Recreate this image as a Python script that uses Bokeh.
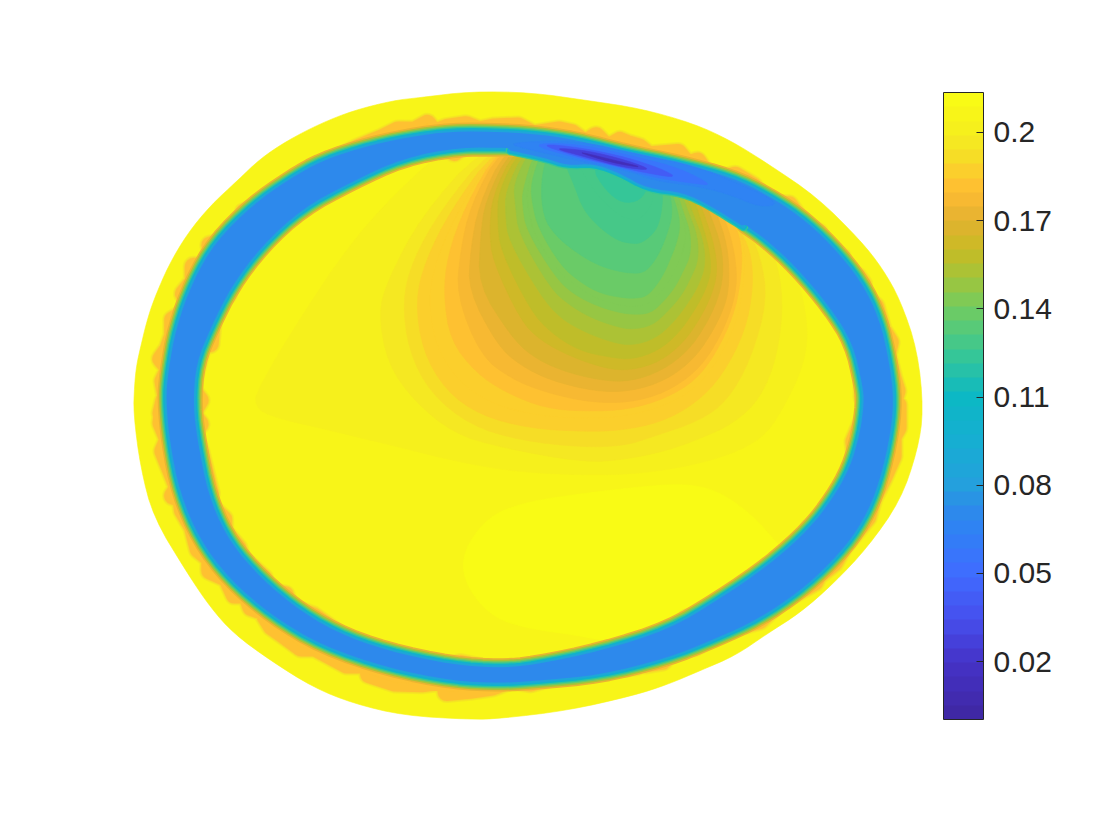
from bokeh.plotting import figure
from bokeh.models import Range1d, LinearColorMapper, ColorBar, FixedTicker, ColumnDataSource
from bokeh.transform import transform
from bokeh.embed import file_html
from bokeh.resources import INLINE
import numpy as np

# ---- colour scale
VMIN, VMAX = 0.0003, 0.2136
N_LEVELS = 44
STOP_VALUES = [0.0003, 0.02, 0.035, 0.05, 0.065, 0.072, 0.08, 0.095, 0.11, 0.125, 0.14, 0.15, 0.16, 0.17, 0.18, 0.187, 0.1918, 0.1967, 0.2015, 0.2063, 0.2112, 0.2136]
STOP_COLORS = ["#3e26a0", "#4533c8", "#4650ee", "#3f6cff", "#2f82f4", "#2d8bea", "#24a0dd", "#16aed2", "#0cb8c4", "#38c795", "#70cc62", "#a0c53c", "#c8bb24", "#e3b230", "#ffbb33", "#fbcf2c", "#f6dd26", "#f5e822", "#f6f01c", "#f8f518", "#f9fb15", "#f9fb15"]
TICK_VALUES = [0.02, 0.05, 0.08, 0.11, 0.14, 0.17, 0.2]
TICK_LABELS = ["0.02", "0.05", "0.08", "0.11", "0.14", "0.17", "0.2"]

# ---- boundary of the domain
OUTER_X = [133,134,136,140,146,153,168,187,210,237,260,287,320,353,393,420,470,530,587,640,693,730,767,817,860,882,900,917,923,917,900,867,833,800,767,735,700,667,633,567,500,470,403,353,313,270,233,210,187,153,140]
OUTER_Y = [413,385,365,347,322,300,265,233,205,180,158,140,123,110,100,97,91,92,100,108,123,140,163,197,240,268,300,350,410,450,500,547,583,612,633,655,670,684,695,710,718,719,715,703,687,660,633,607,573,517,467]

# ---- jagged limit of the ring's outer edge
JOUT_X = [150,155,152,158,150,157,162,162,173,178,173,183,183,195,208,200,220,235,235,250,270,290,310,333,353,377,393,410,423,430,443,463,477,493,517,533,560,573,587,598,610,623,630,643,653,683,693,703,710,730,742,760,767,783,797,813,827,828,850,848,867,872,870,885,892,900,897,903,907,903,908,908,903,903,893,883,877,853,843,827,823,787,767,733,700,680,667,650,643,640,600,577,560,530,510,490,467,443,442,417,390,363,362,340,307,293,277,263,253,242,237,225,217,200,200,188,182,172,170,162,167,162,152,157,150,153]
JOUT_Y = [413,397,380,367,357,347,333,317,310,293,290,277,262,263,248,240,235,217,206,200,182,168,160,148,138,128,120,120,113,122,117,114,119,116,115,123,119,122,132,125,137,130,133,137,145,143,155,152,162,170,167,178,187,197,198,220,227,237,252,260,273,280,290,303,327,340,353,377,390,403,405,428,437,457,480,500,520,550,567,580,587,608,627,637,655,655,670,673,663,675,680,682,685,693,690,697,700,702,690,693,692,683,673,673,655,655,643,633,617,613,600,600,583,575,563,553,530,513,500,498,490,477,452,440,423,400]

# ---- jagged limit of the ring's inner edge
JIN_X = [210,202,205,213,220,223,237,240,263,290,307,337,360,373,382,390,420,450,457,467,487,503,533,567,593,620,647,683,700,723,740,760,780,793,810,827,837,847,852,852,857,853,843,845,838,830,823,800,802,780,757,740,717,703,680,673,650,627,607,580,553,527,500,487,463,437,410,387,377,347,320,297,293,275,272,250,247,233,233,220,217,220,210,205,203,210,202]
JIN_Y = [400,390,373,343,345,313,297,277,247,223,207,192,183,170,177,167,162,155,162,153,152,156,160,168,166,176,191,190,206,215,228,240,253,270,283,307,327,353,377,397,403,417,440,457,483,487,510,523,535,550,570,582,593,603,610,622,630,635,640,647,652,657,658,658,653,658,648,643,648,627,608,600,588,585,572,553,543,527,515,503,497,490,450,437,422,423,413]
JIN_TOP_FIRST, JIN_TOP_LAST = 21, 30   # this stretch meets the contours directly

# ---- smoother edges of the blue ring
BOUT_X = [163,165,173,190,213,250,287,320,370,420,460,527,577,627,677,733,767,800,833,863,881,891,896,891,878,860,833,800,760,717,667,600,533,500,453,387,320,270,227,197,177,167]
BOUT_Y = [400,373,327,280,240,203,177,158,142,132,128,130,137,150,160,175,192,213,243,280,317,360,400,443,493,530,563,593,620,640,660,677,683,685,683,670,647,617,580,540,493,443]
BIN_TOP_X = [510,543,567,593,620,647,683,710,743]
BIN_TOP_Y = [150,157,165,163,173,188,192,205,226]
BIN_REST_X = [743,763,793,827,850,860,861,857,847,830,807,767,717,667,600,533,500,453,387,337,293,253,227,210,200,195,198,213,233,263,303,353,403,460,510]
BIN_REST_Y = [226,240,267,307,343,387,403,433,467,497,527,563,597,627,648,662,665,662,648,630,603,567,533,493,443,405,363,327,287,247,210,183,160,149,150]

# ---- values across the ring's edge
EDGE_ROUGH_LEVELS = [0.197, 0.19, 0.18]
EDGE_SMOOTH_LEVELS = [0.17, 0.155, 0.14, 0.125, 0.105, 0.085]
EDGE_TOP_LEVELS = [0.125, 0.105, 0.085]
RING_LEVEL = 0.072
BASE_LEVEL = 0.206

# ---- dark streak in the ring
STREAK_LEVELS = [0.066, 0.055, 0.04, 0.025, 0.01]
STREAK_X = [
    [503,577,643,693,743,780,760,727,693,653,627,577,533],
    [527,577,643,680,713,693,653,620,573],
    [537,580,627,660,677,653,613,573],
    [550,587,627,653,623,587],
    [573,607,647,610],
]
STREAK_Y = [
    [142,140,155,165,185,203,207,193,185,180,170,160,150],
    [143,143,158,168,185,183,177,167,157],
    [143,147,157,168,177,174,165,155],
    [147,150,160,170,167,157],
    [150,158,168,162],
]

# ---- interior contours, outermost first
FIELD_LEVELS = [0.2015,0.1967,0.1918,0.187,0.185,0.181,0.177,0.172,0.167,0.162,0.158,0.153,0.148,0.145,0.143,0.14,0.135,0.13,0.127,0.125]
FIELD_X = [
    [455,420,353,287,257,254,265,330,400,460,520,600,650,700,740,767,787,803,808,800,785,770,740,620,540],
    [480,420,387,378,387,413,453,500,583,625,667,700,733,760,777,783,775,755,730,620,540],
    [490,440,412,402,408,430,470,520,583,625,650,700,727,750,767,760,745,725,620,540],
    [495,450,425,415,422,445,480,530,583,620,660,695,722,745,753,750,737,720,620,540],
    [498,460,435,428,435,457,490,535,585,625,665,695,718,737,743,745,737,725,620,540],
    [498,465,447,443,450,475,505,545,588,628,665,695,716,733,740,742,734,722,620,542],
    [500,470,460,456,480,510,545,590,630,665,695,715,731,737,733,722,712,620,545],
    [505,478,470,468,497,520,550,595,630,665,692,710,725,729,727,716,706,620,545],
    [510,485,480,478,510,530,560,600,630,662,688,705,717,723,721,709,700,620,548],
    [515,492,489,492,520,540,570,605,630,660,684,700,711,717,714,703,694,620,550],
    [520,498,497,500,530,550,578,610,632,658,678,694,705,711,708,698,690,620,552],
    [525,505,505,508,540,560,585,612,632,655,673,688,698,705,703,692,684,620,555],
    [530,513,515,518,550,568,590,615,632,652,668,681,690,698,697,688,680,620,558],
    [535,522,522,526,555,572,595,618,632,650,664,675,683,690,690,683,676,620,560],
    [538,526,528,534,558,578,598,620,634,648,660,669,676,683,686,680,672,620,562],
    [542,530,532,538,560,580,600,620,634,646,656,664,670,676,680,676,668,620,565],
    [548,540,543,555,573,592,610,630,644,653,660,666,672,670,664,620,570],
    [558,573,583,600,617,630,640,651,658,662,662,656,620,575],
    [570,585,600,615,628,640,651,654,620,580],
    [590,605,622,640,648,625],
]
FIELD_Y = [
    [145,168,237,337,390,403,415,430,447,462,472,475,472,463,450,433,400,365,330,285,245,215,190,155,140],
    [148,217,280,313,363,400,433,447,462,459,450,438,423,398,355,300,255,215,190,155,140],
    [148,210,260,300,350,393,425,440,447,445,437,420,400,360,300,255,225,205,155,140],
    [148,210,260,300,350,390,415,428,431,430,422,403,375,330,285,250,225,200,155,140],
    [148,205,260,300,345,380,403,415,418,416,405,388,360,320,285,250,222,198,155,140],
    [148,205,255,295,340,372,392,408,411,409,398,380,352,315,283,248,221,196,155,140],
    [148,205,250,295,355,378,392,402,402,392,372,345,310,280,245,212,190,155,140],
    [148,205,250,290,345,365,380,391,391,380,360,335,305,280,245,212,190,155,140],
    [148,200,235,285,335,355,370,380,381,370,350,325,300,275,245,212,190,155,140],
    [148,195,230,260,320,340,356,368,370,361,341,317,295,272,245,212,190,155,140],
    [148,190,220,250,310,332,350,357,359,350,333,310,290,270,245,212,190,155,140],
    [148,190,215,240,295,318,332,342,345,338,322,302,285,265,240,212,190,155,140],
    [148,183,205,233,288,304,317,326,329,325,310,295,278,260,235,212,190,155,140],
    [148,190,205,230,277,293,305,312,314,313,300,286,270,255,232,212,190,155,140],
    [148,188,210,235,272,287,299,305,306,304,292,280,266,250,230,212,190,155,140],
    [148,183,205,228,265,282,293,297,298,296,285,272,258,243,225,205,185,155,140],
    [148,183,217,235,250,262,269,273,272,262,250,235,215,195,180,155,140],
    [148,183,210,228,240,243,243,235,225,205,185,170,155,140],
    [148,178,198,212,219,219,205,190,155,145],
    [165,190,203,200,185,165],
]

# ---- brightest patch, lower interior
PATCH_LEVEL = 0.212
PATCH_X = [463,463,487,520,593,640,720,800,777,750,717,683,633,567,520,487]
PATCH_Y = [550,580,613,627,637,650,620,570,543,513,490,483,487,495,503,517]

# ---- palette from the sampled stops
palette = []
grid = VMIN + (np.arange(N_LEVELS) + 0.5) * (VMAX - VMIN) / N_LEVELS
rgb = np.array([[int(c[i:i+2], 16) for i in (1, 3, 5)] for c in STOP_COLORS], dtype=float)
for g in grid:
    r = [int(round(np.interp(g, STOP_VALUES, rgb[:, k]))) for k in range(3)]
    palette.append("#%02x%02x%02x" % tuple(r))
mapper = LinearColorMapper(palette=palette, low=VMIN, high=VMAX)
fill = transform("level", mapper)


def round_corners(x, y, closed=True, n=2):
    """Corner-cut an outline so that it draws as a curve, not as facets."""
    pts = np.column_stack([x, y]).astype(float)
    for _ in range(n):
        nxt = np.roll(pts, -1, axis=0) if closed else pts[1:]
        cur = pts if closed else pts[:-1]
        q = 0.75 * cur + 0.25 * nxt
        r = 0.25 * cur + 0.75 * nxt
        out = np.empty((2 * len(cur), 2))
        out[0::2], out[1::2] = q, r
        pts = out if closed else np.vstack([pts[:1], out, pts[-1:]])
    return pts[:, 0].tolist(), pts[:, 1].tolist()


def shifted(x, y, d):
    """Move an edge along the ray from the ring's middle, d pixels outward."""
    cx, cy = 530.0, 405.0
    x, y = np.array(x, float), np.array(y, float)
    rr = np.hypot(x - cx, y - cy)
    return (x + d * (x - cx) / rr).tolist(), (y + d * (y - cy) / rr).tolist()


p = figure(width=1112, height=832, x_range=Range1d(0, 1112), y_range=Range1d(832, 0),
           x_axis_type=None, y_axis_type=None, toolbar_location=None,
           output_backend="svg", min_border=0, outline_line_color=None)
p.grid.visible = False


def polys(xs, ys, levels):
    return ColumnDataSource(dict(xs=xs, ys=ys, level=levels))


def fillpoly(xs, ys, levels, smooth=True):
    if smooth:
        pairs = [round_corners(a, b) for a, b in zip(xs, ys)]
        xs, ys = [q[0] for q in pairs], [q[1] for q in pairs]
    p.patches("xs", "ys", source=polys(xs, ys, levels), fill_color=fill, line_color=fill, line_width=0.6)


def stroke_closed(x, y, level, width):
    p.patches("xs", "ys", source=polys([x], [y], [level]), fill_color=None,
              line_color=fill, line_width=width, line_join="round")


def stroke_open(x, y, level, width):
    p.multi_line("xs", "ys", source=polys([x], [y], [level]), line_color=fill,
                 line_width=width, line_join="round", line_cap="round")


EDGE_GAP = 11
BLUE_INSET = 2.5
ROUGH_WIDTHS = [22, 20, 18]
SMOOTH_WIDTHS = [18, 15, 12, 9.5, 7, 4]

QO_X, QO_Y = shifted(JOUT_X, JOUT_Y, -EDGE_GAP)
QI_X, QI_Y = shifted(JIN_X, JIN_Y, EDGE_GAP)
rest_x = QI_X[JIN_TOP_LAST:] + QI_X[:JIN_TOP_FIRST + 1]
rest_y = QI_Y[JIN_TOP_LAST:] + QI_Y[:JIN_TOP_FIRST + 1]
BO_X, BO_Y = round_corners(*shifted(BOUT_X, BOUT_Y, -BLUE_INSET))
BT_X, BT_Y = round_corners(BIN_TOP_X, BIN_TOP_Y, closed=False)
BR_X, BR_Y = round_corners(*shifted(BIN_REST_X, BIN_REST_Y, BLUE_INSET), closed=False)

# domain
fillpoly([OUTER_X], [OUTER_Y], [BASE_LEVEL])
# outer jagged band of the ring
for lev, w in zip(EDGE_ROUGH_LEVELS, ROUGH_WIDTHS):
    stroke_closed(QO_X, QO_Y, lev, w)
fillpoly([QO_X], [QO_Y], [EDGE_ROUGH_LEVELS[-1]], smooth=False)
# interior
fillpoly([rest_x + BIN_TOP_X[1:-1]], [rest_y + BIN_TOP_Y[1:-1]], [BASE_LEVEL], smooth=False)
fillpoly([PATCH_X], [PATCH_Y], [PATCH_LEVEL])
fillpoly(FIELD_X, FIELD_Y, FIELD_LEVELS)
# inner jagged band of the ring
for lev, w in zip(EDGE_ROUGH_LEVELS, ROUGH_WIDTHS):
    stroke_open(rest_x, rest_y, lev, w)
# narrow bands next to the blue
for lev, w in zip(EDGE_SMOOTH_LEVELS, SMOOTH_WIDTHS):
    stroke_closed(BO_X, BO_Y, lev, w)
    stroke_open(BR_X, BR_Y, lev, w)
for lev, w in zip(EDGE_TOP_LEVELS, SMOOTH_WIDTHS[-3:]):
    stroke_open(BT_X, BT_Y, lev, w)
# ring
ring_src = ColumnDataSource(dict(
    xs=[[[BO_X, BR_X[:-1] + BT_X[:-1]]]],
    ys=[[[BO_Y, BR_Y[:-1] + BT_Y[:-1]]]],
    level=[RING_LEVEL]))
p.multi_polygons("xs", "ys", source=ring_src, fill_color=fill, line_color=None)
fillpoly(STREAK_X, STREAK_Y, STREAK_LEVELS)

# colour bar
bar = ColorBar(color_mapper=mapper, ticker=FixedTicker(ticks=TICK_VALUES),
               major_label_overrides=dict(zip(TICK_VALUES, TICK_LABELS)),
               location=(943, 113), width=40, height=627, padding=0, margin=0,
               bar_line_color="#262626", bar_line_width=1,
               major_tick_line_color="#262626", major_tick_in=7, major_tick_out=0,
               minor_tick_line_color=None, label_standoff=10,
               major_label_text_font="Liberation Sans", major_label_text_font_size="30px",
               major_label_text_color="#262626", background_fill_color=None, border_line_color=None)
p.add_layout(bar, "center")

open("out.html", "w").write(file_html(p, INLINE))
